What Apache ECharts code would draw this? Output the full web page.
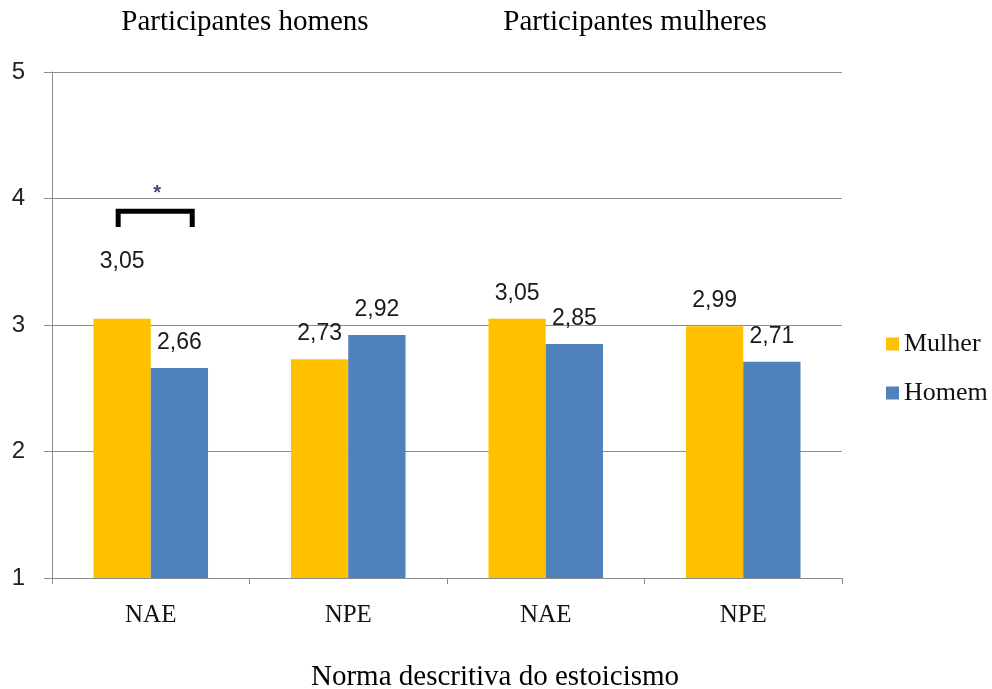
<!DOCTYPE html>
<html>
<head>
<meta charset="utf-8">
<script src="https://cdn.jsdelivr.net/npm/echarts@6/dist/echarts.min.js"></script>
<style>
  html, body { margin: 0; padding: 0; background: #fff; }
  #chart { width: 992px; height: 689px; }
</style>
</head>
<body>
<div id="chart"></div>
<script>
// Stoicism descriptive norm: mean scores by participant gender
const categories = ['NAE', 'NPE', 'NAE', 'NPE'];
const mulher = [3.05, 2.73, 3.05, 2.99];
const homem = [2.66, 2.92, 2.85, 2.71];
const yTicks = [1, 2, 3, 4, 5];
// significance bracket over the first group: [category index, top value, leg bottom value]
const bracket = [[0, 3.9, 3.775]];

const serif = '"Liberation Serif", "Times New Roman", serif';
const sans = '"Liberation Sans", Arial, sans-serif';

const fmt = v => v.toFixed(2).replace('.', ',');

const mulherData = mulher.map((v, i) => i === 0
  ? { value: v, label: { distance: 46 } }
  : v);

const labelStyle = {
  show: true,
  position: 'top',
  distance: 14,
  color: '#1a1a1a',
  fontFamily: sans,
  fontSize: 23,
  formatter: p => fmt(p.value)
};

const chart = echarts.init(document.getElementById('chart'));
chart.setOption({
  animation: false,
  backgroundColor: '#ffffff',
  grid: { left: 52, right: 150, top: 72, bottom: 111, containLabel: false },
  legend: {
    orient: 'vertical',
    left: 881,
    top: 326,
    itemWidth: 13,
    itemHeight: 13,
    itemGap: 23,
    icon: 'rect',
    textStyle: { fontFamily: serif, fontSize: 26, color: '#111' },
    data: ['Mulher', 'Homem']
  },
  xAxis: {
    type: 'category',
    data: categories,
    axisLine: { lineStyle: { color: '#8c8c8c', width: 1 } },
    axisTick: { show: true, length: 6, lineStyle: { color: '#8c8c8c' } },
    axisLabel: { fontFamily: serif, fontSize: 25, color: '#111', margin: 25 }
  },
  yAxis: {
    type: 'value',
    min: yTicks[0],
    max: yTicks[yTicks.length - 1],
    interval: 1,
    axisLine: { show: true, lineStyle: { color: '#8c8c8c', width: 1 } },
    axisTick: { show: true, length: 8, lineStyle: { color: '#8c8c8c' } },
    splitLine: { lineStyle: { color: '#8c8c8c', width: 1 } },
    axisLabel: { fontFamily: sans, fontSize: 24, color: '#222', margin: 27 }
  },
  series: [
    {
      name: 'Mulher',
      type: 'bar',
      data: mulherData,
      barGap: '0%',
      barCategoryGap: '42%',
      itemStyle: { color: '#FFC000' },
      label: labelStyle
    },
    {
      name: 'Homem',
      type: 'bar',
      data: homem,
      itemStyle: { color: '#4F81BD' },
      label: labelStyle
    },
    {
      type: 'custom',
      silent: true,
      z: 10,
      data: bracket,
      renderItem: function (params, api) {
        const top = api.coord([api.value(0), api.value(1)]);
        const bottom = api.coord([api.value(0), api.value(2)]);
        const w = api.size([1, 0])[0];
        const l = top[0] - 0.165 * w;
        const r = top[0] + 0.21 * w;
        return {
          type: 'group',
          children: [
            {
              type: 'polyline',
              shape: { points: [[l, bottom[1]], [l, top[1]], [r, top[1]], [r, bottom[1]]] },
              style: { stroke: '#000', lineWidth: 5, fill: null, lineJoin: 'miter' }
            },
            {
              type: 'text',
              style: {
                x: (l + r) / 2 + 2,
                y: top[1] - 18,
                text: '*',
                fill: '#3c4a78',
                font: 'bold 20px ' + sans,
                textAlign: 'center',
                textVerticalAlign: 'middle'
              }
            }
          ]
        };
      }
    }
  ],
  graphic: [
    {
      type: 'text',
      x: 245, y: 22,
      style: { text: 'Participantes homens', font: '29px ' + serif, fill: '#000', textAlign: 'center', textVerticalAlign: 'middle' }
    },
    {
      type: 'text',
      x: 635, y: 22,
      style: { text: 'Participantes mulheres', font: '29px ' + serif, fill: '#000', textAlign: 'center', textVerticalAlign: 'middle' }
    },
    {
      type: 'text',
      x: 495, y: 677,
      style: { text: 'Norma descritiva do estoicismo', font: '29px ' + serif, fill: '#000', textAlign: 'center', textVerticalAlign: 'middle' }
    }
  ]
});
</script>
</body>
</html>
